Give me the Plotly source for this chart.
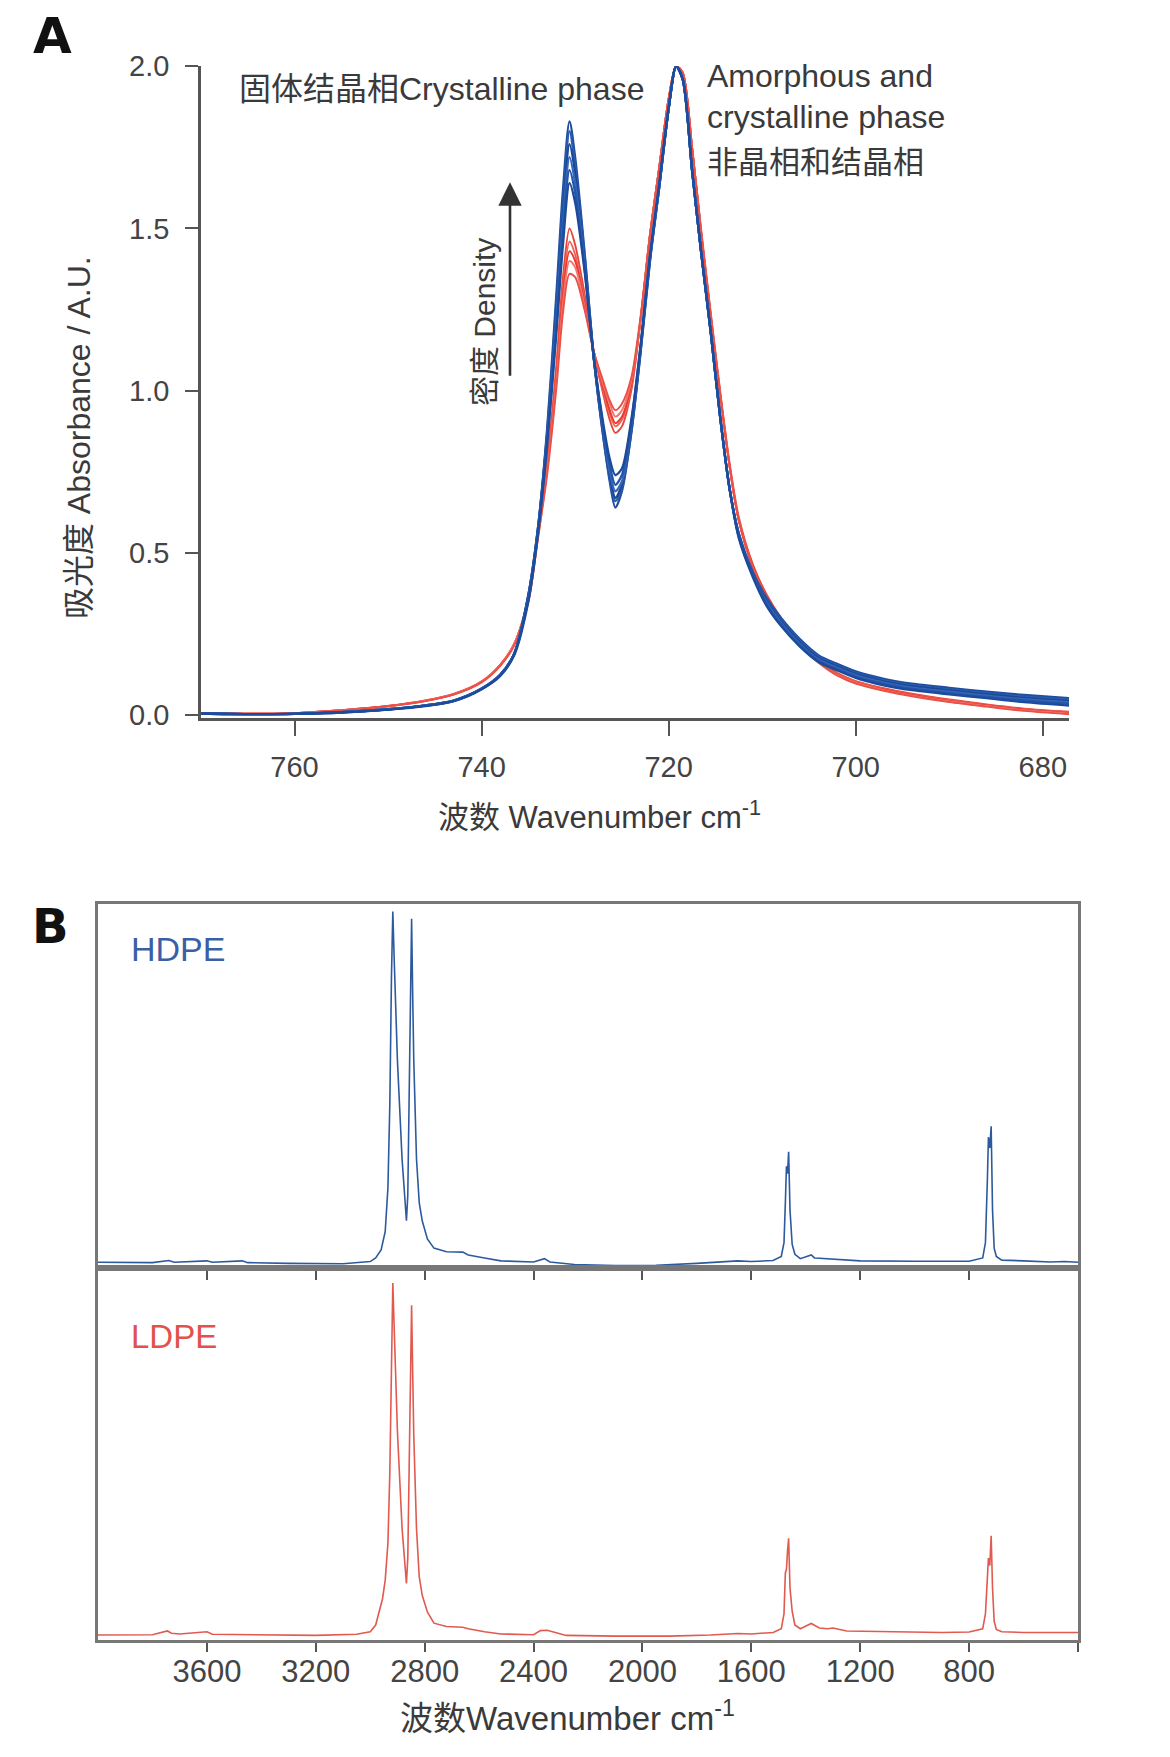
import plotly.graph_objects as go

# ---------------- Panel A data (absorbance vs wavenumber) ----------------
XA = [770, 765, 760, 755, 750, 746, 743, 740, 738, 736.5, 735, 734, 733, 732, 731.3, 730.6, 730, 729, 728, 727,
      726.3, 725.7, 725, 724, 723, 722, 721, 720, 719.2, 718.5, 717.5, 716.5, 715.5, 714.5, 713.5, 712.5, 711,
      709.5, 708, 706, 704, 702, 700, 697, 694, 690, 686, 682, 677]

HDPE_A1 = [0.006, 0.003, 0.004, 0.009, 0.018, 0.030, 0.045, 0.082, 0.125, 0.19, 0.37, 0.57, 0.88, 1.30, 1.62, 1.83, 1.72, 1.43, 1.10, 0.86,
           0.72, 0.64, 0.69, 0.87, 1.12, 1.40, 1.63, 1.87, 2.00, 1.96, 1.68, 1.42, 1.18, 0.92, 0.70, 0.56, 0.44,
           0.36, 0.30, 0.235, 0.185, 0.158, 0.135, 0.112, 0.097, 0.084, 0.072, 0.062, 0.052]
HDPE_A2 = [0.006, 0.003, 0.004, 0.009, 0.018, 0.030, 0.045, 0.082, 0.125, 0.19, 0.37, 0.57, 0.87, 1.27, 1.58, 1.80, 1.69, 1.42, 1.10, 0.86,
           0.73, 0.66, 0.70, 0.87, 1.12, 1.40, 1.63, 1.87, 2.00, 1.96, 1.68, 1.42, 1.18, 0.92, 0.70, 0.56, 0.44,
           0.355, 0.295, 0.23, 0.18, 0.153, 0.130, 0.107, 0.092, 0.079, 0.067, 0.057, 0.047]
HDPE_A3 = [0.005, 0.003, 0.004, 0.009, 0.018, 0.030, 0.044, 0.081, 0.124, 0.19, 0.37, 0.57, 0.86, 1.25, 1.55, 1.76, 1.67, 1.40, 1.10, 0.87,
           0.74, 0.67, 0.71, 0.88, 1.13, 1.41, 1.63, 1.87, 2.00, 1.96, 1.68, 1.42, 1.18, 0.92, 0.70, 0.555, 0.435,
           0.35, 0.29, 0.225, 0.176, 0.150, 0.127, 0.104, 0.089, 0.076, 0.064, 0.053, 0.043]
HDPE_A4 = [0.005, 0.003, 0.004, 0.009, 0.018, 0.029, 0.044, 0.081, 0.123, 0.19, 0.36, 0.56, 0.85, 1.23, 1.52, 1.72, 1.64, 1.39, 1.10, 0.88,
           0.75, 0.69, 0.72, 0.89, 1.13, 1.41, 1.63, 1.87, 2.00, 1.96, 1.68, 1.42, 1.18, 0.92, 0.70, 0.55, 0.43,
           0.345, 0.285, 0.22, 0.172, 0.146, 0.123, 0.100, 0.085, 0.072, 0.060, 0.049, 0.039]
HDPE_A5 = [0.005, 0.003, 0.004, 0.008, 0.017, 0.029, 0.043, 0.080, 0.122, 0.19, 0.36, 0.56, 0.84, 1.20, 1.49, 1.68, 1.61, 1.38, 1.10, 0.89,
           0.77, 0.71, 0.74, 0.90, 1.14, 1.41, 1.64, 1.87, 2.00, 1.96, 1.68, 1.42, 1.18, 0.92, 0.70, 0.55, 0.43,
           0.34, 0.28, 0.216, 0.168, 0.142, 0.119, 0.096, 0.081, 0.068, 0.056, 0.045, 0.034]
HDPE_A6 = [0.005, 0.003, 0.004, 0.008, 0.017, 0.028, 0.043, 0.080, 0.121, 0.185, 0.35, 0.55, 0.83, 1.18, 1.45, 1.64, 1.58, 1.37, 1.10, 0.90,
           0.79, 0.74, 0.76, 0.91, 1.14, 1.42, 1.64, 1.87, 2.00, 1.96, 1.68, 1.42, 1.18, 0.92, 0.70, 0.545, 0.425,
           0.335, 0.275, 0.212, 0.164, 0.138, 0.115, 0.092, 0.077, 0.064, 0.052, 0.040, 0.029]

LDPE_A1 = [0.004, 0.004, 0.006, 0.015, 0.028, 0.045, 0.065, 0.104, 0.156, 0.22, 0.36, 0.56, 0.78, 1.08, 1.35, 1.50, 1.45, 1.30, 1.12, 0.99,
           0.91, 0.87, 0.89, 1.00, 1.22, 1.48, 1.69, 1.90, 2.00, 1.98, 1.75, 1.49, 1.24, 1.00, 0.78, 0.61, 0.465,
           0.37, 0.30, 0.225, 0.170, 0.130, 0.105, 0.083, 0.066, 0.048, 0.033, 0.020, 0.010]
LDPE_A2 = [0.004, 0.004, 0.006, 0.015, 0.028, 0.045, 0.065, 0.103, 0.155, 0.22, 0.36, 0.55, 0.77, 1.06, 1.32, 1.46, 1.42, 1.28, 1.12, 1.00,
           0.93, 0.89, 0.91, 1.01, 1.22, 1.48, 1.69, 1.90, 2.00, 1.98, 1.75, 1.48, 1.23, 0.99, 0.77, 0.60, 0.46,
           0.365, 0.295, 0.222, 0.168, 0.128, 0.103, 0.081, 0.064, 0.046, 0.031, 0.018, 0.008]
LDPE_A3 = [0.004, 0.004, 0.006, 0.015, 0.028, 0.044, 0.064, 0.102, 0.154, 0.22, 0.35, 0.55, 0.76, 1.05, 1.30, 1.43, 1.40, 1.27, 1.12, 1.01,
           0.94, 0.90, 0.92, 1.02, 1.22, 1.48, 1.69, 1.90, 2.00, 1.98, 1.75, 1.48, 1.23, 0.99, 0.77, 0.60, 0.46,
           0.365, 0.295, 0.22, 0.166, 0.126, 0.101, 0.079, 0.062, 0.044, 0.030, 0.017, 0.006]
LDPE_A4 = [0.004, 0.004, 0.006, 0.015, 0.027, 0.044, 0.064, 0.102, 0.153, 0.22, 0.35, 0.54, 0.75, 1.03, 1.27, 1.40, 1.38, 1.26, 1.12, 1.02,
           0.96, 0.92, 0.94, 1.03, 1.22, 1.48, 1.69, 1.90, 2.00, 1.98, 1.75, 1.48, 1.23, 0.99, 0.77, 0.60, 0.455,
           0.36, 0.29, 0.218, 0.164, 0.124, 0.099, 0.077, 0.060, 0.042, 0.028, 0.015, 0.004]
LDPE_A5 = [0.004, 0.004, 0.006, 0.014, 0.027, 0.043, 0.063, 0.101, 0.152, 0.215, 0.35, 0.54, 0.74, 1.01, 1.24, 1.36, 1.35, 1.25, 1.12, 1.03,
           0.97, 0.94, 0.96, 1.04, 1.23, 1.48, 1.69, 1.90, 2.00, 1.98, 1.75, 1.48, 1.23, 0.99, 0.77, 0.60, 0.455,
           0.36, 0.29, 0.216, 0.162, 0.122, 0.097, 0.075, 0.058, 0.040, 0.026, 0.013, 0.002]

A_XTICKS = [760, 740, 720, 700, 680]
A_YTICKS = [0.0, 0.5, 1.0, 1.5, 2.0]
A_YTICKTEXT = ["0.0", "0.5", "1.0", "1.5", "2.0"]

# ---------------- Panel B data (full spectra) ----------------
HDPE_X = [4000, 3900, 3800, 3740, 3720, 3600, 3580, 3470, 3450, 3300, 3100, 3000, 2980, 2960, 2945, 2935, 2928, 2922,
          2917, 2912, 2900, 2883, 2875, 2867, 2862, 2856, 2848, 2844, 2840, 2830, 2820, 2809, 2790, 2766, 2720,
          2660, 2640, 2580, 2520, 2400, 2360, 2340, 2250, 2100, 1950, 1800, 1650, 1600, 1520, 1490, 1480, 1475,
          1471, 1467, 1463, 1458, 1450, 1440, 1420, 1380, 1368, 1350, 1300, 1200, 1000, 900, 800, 750, 740, 733,
          729, 724, 719, 714, 708, 700, 680, 600, 500, 450, 400]
HDPE_Y = [0.016, 0.016, 0.015, 0.021, 0.016, 0.020, 0.016, 0.020, 0.015, 0.013, 0.012, 0.018, 0.028, 0.050, 0.10, 0.22, 0.45, 0.80,
          0.98, 0.85, 0.57, 0.30, 0.20, 0.13, 0.20, 0.57, 0.96, 0.75, 0.57, 0.30, 0.18, 0.13, 0.08, 0.055, 0.045,
          0.044, 0.036, 0.028, 0.020, 0.017, 0.026, 0.017, 0.010, 0.007, 0.008, 0.013, 0.020, 0.018, 0.021, 0.032, 0.07, 0.18,
          0.28, 0.26, 0.32, 0.16, 0.065, 0.038, 0.026, 0.036, 0.028, 0.027, 0.024, 0.020, 0.019, 0.018, 0.019, 0.028, 0.07, 0.24,
          0.36, 0.33, 0.39, 0.16, 0.055, 0.032, 0.022, 0.020, 0.017, 0.018, 0.016]

LDPE_X = [4000, 3900, 3800, 3745, 3730, 3700, 3620, 3600, 3580, 3400, 3200, 3050, 3000, 2980, 2965, 2955, 2945, 2935,
          2928, 2922, 2917, 2912, 2900, 2883, 2875, 2867, 2862, 2856, 2848, 2844, 2840, 2830, 2820, 2809, 2790,
          2766, 2720, 2660, 2640, 2580, 2520, 2400, 2375, 2350, 2320, 2280, 2100, 1900, 1750, 1650, 1600, 1520,
          1490, 1480, 1475, 1471, 1467, 1463, 1458, 1450, 1440, 1420, 1380, 1368, 1350, 1320, 1300, 1250, 1100,
          900, 800, 750, 740, 733, 729, 724, 719, 714, 708, 700, 680, 600, 500, 450, 420, 400]
LDPE_Y = [0.013, 0.013, 0.014, 0.024, 0.018, 0.016, 0.020, 0.022, 0.015, 0.013, 0.012, 0.015, 0.022, 0.040, 0.078, 0.11, 0.16, 0.26,
          0.45, 0.78, 0.96, 0.84, 0.56, 0.30, 0.22, 0.152, 0.22, 0.55, 0.90, 0.72, 0.55, 0.30, 0.17, 0.12, 0.075,
          0.045, 0.036, 0.034, 0.030, 0.022, 0.016, 0.014, 0.025, 0.026, 0.020, 0.012, 0.010, 0.010, 0.013, 0.017, 0.016, 0.020,
          0.030, 0.07, 0.18, 0.19, 0.24, 0.273, 0.14, 0.077, 0.040, 0.030, 0.044, 0.040, 0.032, 0.030, 0.032, 0.024, 0.022,
          0.020, 0.021, 0.030, 0.07, 0.18, 0.22, 0.20, 0.28, 0.14, 0.05, 0.028, 0.022, 0.020, 0.020, 0.020, 0.022, 0.020]

B_XTICKS = [3600, 3200, 2800, 2400, 2000, 1600, 1200, 800, 400]
B_XTICKTEXT = ["3600", "3200", "2800", "2400", "2000", "1600", "1200", "800", ""]

FONT = "Liberation Sans, Arial, Noto Sans CJK SC, sans-serif"
TXT = "#3a3a3a"

blue_colors = ["#1f4e9e", "#2b5cb0", "#1a4896", "#3566b8", "#2456a8", "#1d4b9b"]
red_colors = ["#e8463c", "#ef6258", "#e53b31", "#f2776d", "#ea5045"]

fig = go.Figure()

for ys, c in zip([LDPE_A1, LDPE_A2, LDPE_A3, LDPE_A4, LDPE_A5], red_colors):
    fig.add_trace(go.Scatter(x=XA, y=ys, mode="lines", line=dict(color=c, width=1.9, shape="spline", smoothing=0.8),
                             xaxis="x", yaxis="y", showlegend=False, hoverinfo="skip"))
for ys, c in zip([HDPE_A1, HDPE_A2, HDPE_A3, HDPE_A4, HDPE_A5, HDPE_A6], blue_colors):
    fig.add_trace(go.Scatter(x=XA, y=ys, mode="lines", line=dict(color=c, width=2.3, shape="spline", smoothing=0.8),
                             xaxis="x", yaxis="y", showlegend=False, hoverinfo="skip"))

fig.add_trace(go.Scatter(x=HDPE_X, y=HDPE_Y, mode="lines", line=dict(color="#2d5a9e", width=1.6),
                         xaxis="x2", yaxis="y2", showlegend=False, hoverinfo="skip"))
fig.add_trace(go.Scatter(x=LDPE_X, y=LDPE_Y, mode="lines", line=dict(color="#e05a50", width=1.6),
                         xaxis="x3", yaxis="y3", showlegend=False, hoverinfo="skip"))

W, H = 1170, 1757
def px(x):
    return x / W
def py(y):
    return (H - y) / H

axis_line = "#555555"
box_line = "#777777"

fig.update_layout(
    width=W, height=H,
    margin=dict(l=0, r=0, t=0, b=0),
    paper_bgcolor="white", plot_bgcolor="white",
    font=dict(family=FONT, color=TXT),
    xaxis=dict(domain=[px(193), px(1061)], anchor="y", range=[770, 677.2], tickvals=A_XTICKS,
               ticks="outside", ticklen=15, tickwidth=2, tickcolor=axis_line,
               showline=True, linecolor=axis_line, linewidth=2.5, showgrid=False, zeroline=False,
               tickfont=dict(size=29, color="#444", family=FONT), ticklabelstandoff=6),
    yaxis=dict(domain=[py(706), py(43)], anchor="x", range=[-0.01, 2.0], tickvals=A_YTICKS, ticktext=A_YTICKTEXT,
               ticks="outside", ticklen=13, tickwidth=2, tickcolor=axis_line,
               showline=True, linecolor=axis_line, linewidth=2.5, showgrid=False, zeroline=False,
               tickfont=dict(size=29, color="#444", family=FONT), ticklabelstandoff=10),
    xaxis2=dict(domain=[px(90), px(1070)], anchor="y2", range=[4000, 400], tickvals=B_XTICKS[:-1],
                showticklabels=False, ticks="outside", ticklen=9, tickwidth=2, tickcolor="#555",
                showline=True, mirror=True, linecolor=box_line, linewidth=2.5, showgrid=False, zeroline=False),
    yaxis2=dict(domain=[py(1265), py(895)], anchor="x2", range=[0, 1], showticklabels=False, ticks="",
                showline=True, mirror=True, linecolor=box_line, linewidth=2.5, showgrid=False, zeroline=False),
    xaxis3=dict(domain=[px(90), px(1070)], anchor="y3", range=[4000, 400], tickvals=B_XTICKS, ticktext=B_XTICKTEXT,
                ticks="outside", ticklen=9, tickwidth=2, tickcolor="#555",
                showline=True, mirror=True, linecolor=box_line, linewidth=2.5, showgrid=False, zeroline=False,
                tickfont=dict(size=31, color="#444", family=FONT), ticklabelstandoff=-7),
    yaxis3=dict(domain=[py(1643), py(1265)], anchor="x3", range=[0, 1], showticklabels=False, ticks="",
                showline=True, mirror=True, linecolor=box_line, linewidth=2.5, showgrid=False, zeroline=False),
)

ann = []
def text(x, y, s, size, color=TXT, xanchor="left", yanchor="middle", angle=0, bold=False, family=FONT):
    ann.append(dict(x=px(x), y=py(y), xref="paper", yref="paper", text=(f"<b>{s}</b>" if bold else s),
                    showarrow=False, xanchor=xanchor, yanchor=yanchor, textangle=angle,
                    font=dict(size=size, color=color, family=family)))

text(44, 12, "A", 50, color="#111", xanchor="center", bold=True, family="DejaVu Sans, Liberation Sans")
text(42, 917, "B", 48, color="#111", xanchor="center", bold=True, family="DejaVu Sans, Liberation Sans")

text(229, 66, "固体结晶相Crystalline phase", 32)
text(697, 53, "Amorphous and", 32)
text(697, 95, "crystalline phase", 32)
text(697, 141, "非晶相和结晶相", 31)
text(477, 303, "密度 Density", 30, xanchor="center", angle=-90)

text(71, 421, "吸光度 Absorbance / A.U.", 32, xanchor="center", angle=-90)
text(591, 804, "波数 Wavenumber cm<sup>-1</sup>", 31, xanchor="center")
text(559, 1720, "波数Wavenumber cm<sup>-1</sup>", 33, xanchor="center")

text(121, 941, "HDPE", 34, color="#3a5fa6")
text(121, 1335, "LDPE", 33, color="#e0524a")

ann.append(dict(x=px(502), y=py(161), xref="paper", yref="paper", ax=0, ay=195, text="",
                showarrow=True, arrowhead=2, arrowsize=1.8, arrowwidth=2.6, arrowcolor="#333"))

fig.update_layout(annotations=ann)

fig.write_html("out.html")
